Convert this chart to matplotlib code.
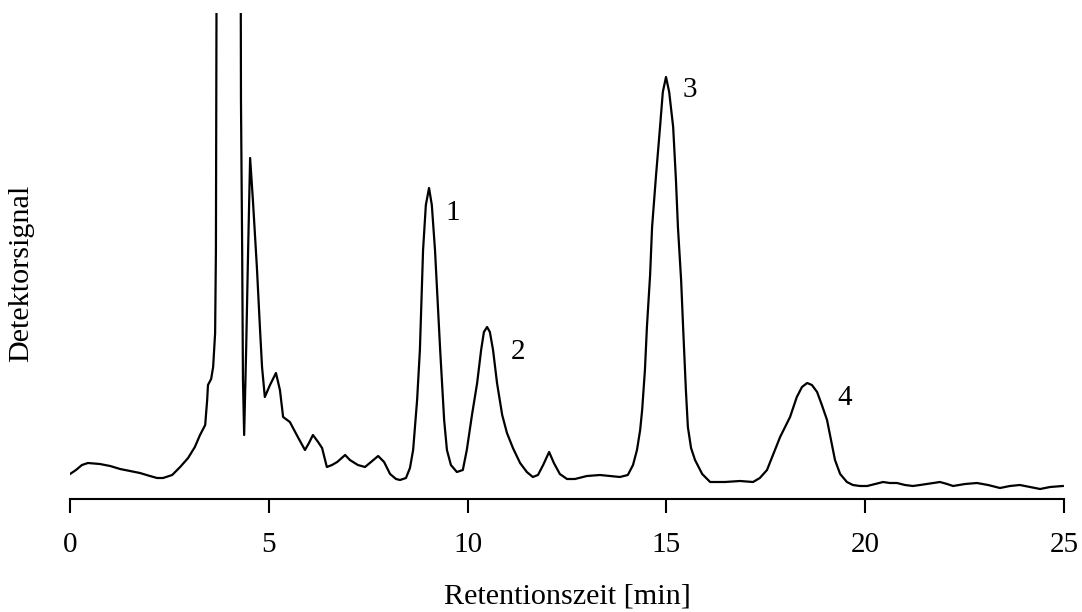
import numpy as np
import matplotlib
matplotlib.use("Agg")
import matplotlib.pyplot as plt

plt.rcParams['font.family'] = ['Liberation Serif', 'DejaVu Serif']

### chromatogram: time [min] and signal (arbitrary units)
time = [0.00, 0.15, 0.30, 0.45, 0.75, 1.01, 1.26, 1.51, 1.76, 2.01, 2.19, 2.34,
        2.57, 2.77, 2.97, 3.14, 3.27, 3.40, 3.45, 3.47, 3.55, 3.60, 3.65, 3.67,
        3.68, 3.69, 3.98, 4.29, 4.30, 4.33, 4.35, 4.38, 4.43, 4.48, 4.53, 4.60,
        4.70, 4.78, 4.83, 4.90, 5.03, 5.18, 5.28, 5.36, 5.53, 5.73, 5.91, 6.01,
        6.11, 6.24, 6.34, 6.46, 6.59, 6.72, 6.92, 7.04, 7.24, 7.42, 7.57, 7.75,
        7.90, 8.05, 8.20, 8.30, 8.45, 8.55, 8.63, 8.73, 8.80, 8.88, 8.95, 9.03,
        9.10, 9.18, 9.31, 9.41, 9.48, 9.58, 9.73, 9.88, 9.98, 10.11, 10.24, 10.34,
        10.41, 10.49, 10.56, 10.64, 10.74, 10.87, 10.99, 11.14, 11.32, 11.49, 11.64, 11.77,
        11.90, 12.05, 12.17, 12.32, 12.50, 12.70, 13.00, 13.33, 13.58, 13.83, 14.03, 14.16,
        14.26, 14.34, 14.39, 14.46, 14.51, 14.59, 14.64, 14.74, 14.84, 14.91, 14.99, 15.07,
        15.17, 15.24, 15.29, 15.37, 15.42, 15.49, 15.54, 15.62, 15.72, 15.90, 16.10, 16.47,
        16.85, 17.18, 17.35, 17.53, 17.68, 17.86, 18.11, 18.28, 18.41, 18.54, 18.66, 18.79,
        18.91, 19.04, 19.14, 19.24, 19.37, 19.54, 19.69, 19.87, 20.05, 20.25, 20.45, 20.62,
        20.80, 21.00, 21.20, 21.38, 21.71, 21.88, 22.06, 22.21, 22.51, 22.81, 23.09, 23.39,
        23.64, 23.89, 24.15, 24.40, 24.65, 24.97]
signal = [25, 29, 34, 36, 35, 33, 30, 28, 26, 23, 21, 21,
          24, 32, 41, 52, 64, 74, 99, 114, 120, 132, 166, 249,
          399, 600, 2500, 600, 399, 249, 119, 64, 149, 249, 341, 299,
          232, 169, 132, 102, 114, 126, 109, 82, 77, 62, 49, 56,
          64, 57, 51, 32, 34, 37, 44, 39, 34, 32, 37, 43,
          37, 25, 20, 19, 21, 31, 49, 99, 149, 249, 294, 311,
          294, 249, 149, 79, 49, 34, 27, 29, 49, 84, 116, 149,
          167, 172, 167, 149, 116, 84, 66, 51, 36, 27, 22, 24,
          34, 47, 36, 25, 20, 20, 23, 24, 23, 22, 24, 34,
          49, 69, 89, 129, 172, 224, 272, 324, 372, 407, 422, 407,
          372, 319, 272, 219, 172, 109, 72, 51, 39, 25, 17, 17,
          18, 17, 21, 29, 44, 62, 82, 102, 112, 116, 114, 107,
          94, 79, 59, 39, 25, 17, 14, 13, 13, 15, 17, 16,
          16, 14, 13, 14, 16, 17, 15, 13, 15, 16, 14, 11,
          13, 14, 12, 10, 12, 13]

peak_labels = ['1', '2', '3', '4']
label_time = [9.63, 11.27, 15.59, 19.49]
label_signal = [286, 147, 409, 101]

x_ticks = [0, 5, 10, 15, 20, 25]

fig = plt.figure(figsize=(10.82, 6.12), dpi=100)
ax = fig.add_axes([70 / 1082, 1 - 499 / 612, 994 / 1082, 486 / 612])

ax.plot(time, signal, color='black', lw=1.6, solid_joinstyle='round')

for lab, tx, ty in zip(peak_labels, label_time, label_signal):
    ax.text(tx, ty, lab, fontsize=21, ha='center', va='center')

ax.set_xlim(0, 25)
ax.set_ylim(0, 486)
ax.set_xticks(x_ticks)
ax.set_yticks([])
for s in ['top', 'right', 'left']:
    ax.spines[s].set_visible(False)
ax.spines['bottom'].set_linewidth(1.5)
ax.tick_params(axis='x', direction='out', length=10, width=1.5, labelsize=21, pad=14)

ax.set_xlabel('Retentionszeit [min]', fontsize=21.7, labelpad=18)
ax.set_ylabel('Detektorsignal', fontsize=21.7)
ax.yaxis.set_label_coords(-0.036, 0.465)

fig.savefig('out.png', dpi=100)
